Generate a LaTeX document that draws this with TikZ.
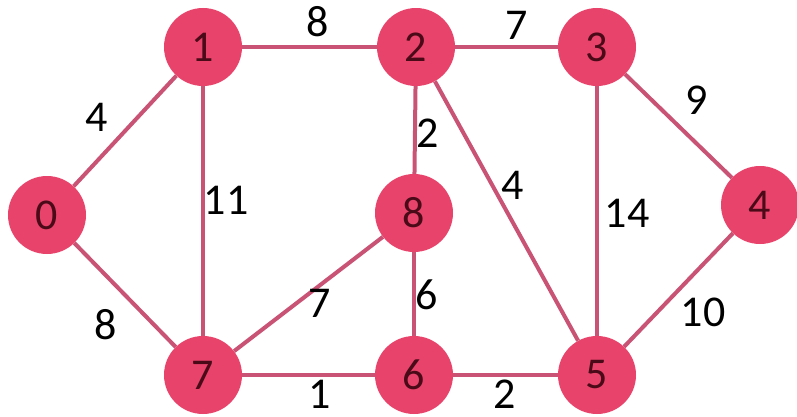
\documentclass[tikz,border=0pt]{standalone}
\usepackage{fontspec}
\setmainfont{Carlito}
\definecolor{nodefill}{HTML}{E8436B}
\definecolor{edgecol}{HTML}{C95374}
\definecolor{nodetext}{HTML}{4A0A18}
\begin{document}
\begin{tikzpicture}[x=1pt,y=-1pt,
  vert/.style={circle,fill=nodefill,minimum size=78pt,inner sep=0pt,text=nodetext,font=\fontsize{44}{44}\selectfont},
  edge/.style={draw=edgecol,line width=4pt},
  wlabel/.style={text=black,font=\fontsize{44}{44}\selectfont,inner sep=0pt}]
\useasboundingbox (0,0) rectangle (797,417);
\node[vert] (n0) at (47,215) {0};
\node[vert] (n1) at (203,47) {1};
\node[vert] (n2) at (416,47) {2};
\node[vert] (n3) at (597,47) {3};
\node[vert] (n4) at (760,205) {4};
\node[vert] (n8) at (414,213) {8};
\node[vert] (n7) at (203,375) {7};
\node[vert] (n6) at (414,375) {6};
\node[vert] (n5) at (597,375) {5};
\draw[edge] (n0) -- (n1);
\draw[edge] (n1) -- (n2);
\draw[edge] (n2) -- (n3);
\draw[edge] (n3) -- (n4);
\draw[edge] (n1) -- (n7);
\draw[edge] (n2) -- (n8);
\draw[edge] (n2) -- (n5);
\draw[edge] (n3) -- (n5);
\draw[edge] (n0) -- (n7);
\draw[edge] (n8) -- (n7);
\draw[edge] (n8) -- (n6);
\draw[edge] (n4) -- (n5);
\draw[edge] (n7) -- (n6);
\draw[edge] (n6) -- (n5);
\node[wlabel] (l01) at (97,117) {4};
\node[wlabel] (l12) at (318,22) {8};
\node[wlabel] (l23) at (517,25) {7};
\node[wlabel] (l34) at (697,100) {9};
\node[wlabel] (l17) at (226,200) {11};
\node[wlabel] (l28) at (428,133) {2};
\node[wlabel] (l25) at (513,185) {4};
\node[wlabel] (l35) at (627,213) {14};
\node[wlabel] (l07) at (106,325) {8};
\node[wlabel] (l87) at (320,303) {7};
\node[wlabel] (l86) at (427,295) {6};
\node[wlabel] (l45) at (703,312) {10};
\node[wlabel] (l76) at (320,394) {1};
\node[wlabel] (l65) at (505,394) {2};
\end{tikzpicture}
\end{document}
